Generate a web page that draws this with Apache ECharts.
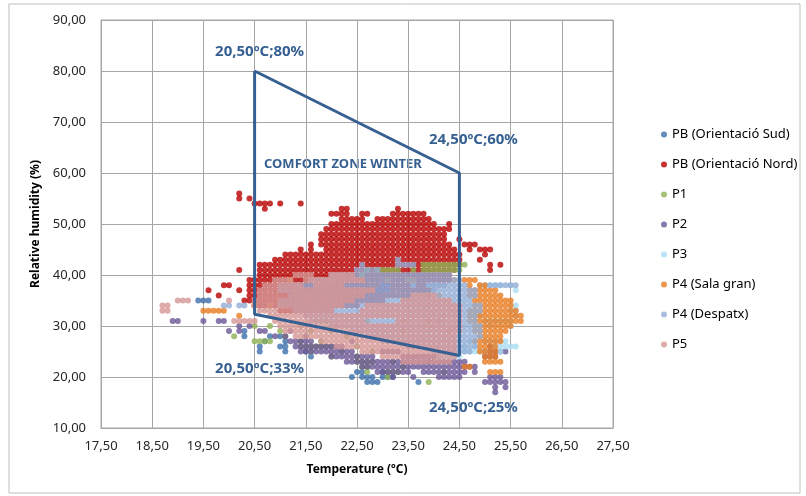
<!DOCTYPE html>
<html>
<head>
<meta charset="utf-8">
<script src="https://cdn.jsdelivr.net/npm/echarts@6/dist/echarts.min.js"></script>
<style>
  html, body { margin: 0; padding: 0; background: #fff; }
  #main { width: 806px; height: 496px; }
</style>
</head>
<body>
<div id="main"></div>
<script>
// rows: [humidity %, temperature or [from, to] run on the 0.1 ºC grid, ...]
var seriesNames = ['PB (Orientació Sud)', 'PB (Orientació Nord)', 'P1', 'P2', 'P3', 'P4 (Sala gran)', 'P4 (Despatx)', 'P5'];

var sudRows = [
  [35, 19.4, 19.5, 19.6],
  [29, 20.3],
  [28, 20.3, 20.8, 21.0],
  [27, 20.7, 21.1],
  [26, 20.6, 21.0, 21.1],
  [25, 20.6, 21.1, 21.5],
  [24, 21.6],
  [21, 22.5, 22.6, 23.0],
  [20, 22.4, [22.6, 22.8], [23.0, 23.2]],
  [19, [22.7, 22.9], 23.7]
];

var nordRows = [
  [56, 20.2],
  [55, 20.2, 20.4],
  [54, [20.5, 20.8], 21.0, 21.4],
  [53, 20.7, 22.2, 22.3, 23.3],
  [52, [22.0, 22.3], [22.6, 22.7], [23.2, 23.8]],
  [51, [22.2, 22.6], [22.9, 23.9]],
  [50, [22.0, 24.0], 24.3],
  [49, [21.9, 24.3]],
  [48, [21.8, 24.2]],
  [47, [21.8, 24.2], 24.5],
  [46, 21.6, [21.8, 24.3], [24.6, 24.8]],
  [45, 21.4, 21.6, [21.9, 24.4], 24.7, [24.9, 25.1]],
  [44, [21.1, 24.5], 25.0],
  [43, [20.9, 24.5], 24.9],
  [42, [20.6, 24.5], 25.1, 25.3],
  [41, 20.2, [20.6, 24.4], 25.1],
  [40, [20.6, 24.3]],
  [39, [20.4, 24.3]],
  [38, 19.9, 20.0, [20.4, 24.2]],
  [37, 19.6, 20.2, [20.4, 24.0]],
  [36, 19.8, [20.4, 23.5]],
  [35, [20.3, 23.0]],
  [34, [20.5, 22.5]],
  [33, [21.0, 22.0]]
];

var p1Rows = [
  [42, [23.8, 24.6]],
  [41, 22.7, [22.9, 23.3], 23.6, [23.8, 24.5]],
  [40, 22.6],
  [31, [21.7, 21.9]],
  [30, 20.5, 20.8, 21.4],
  [29, 21.0, 21.6, 22.0],
  [28, 20.1, 21.1, 22.3],
  [27, [20.5, 20.8], 21.4, 21.8],
  [26, [21.4, 22.0], 22.5],
  [25, 21.6, 22.2, 22.8],
  [24, 22.0, 22.5],
  [23, [22.5, 22.8], 23.2, 23.9],
  [22, [22.6, 22.7], 23.4],
  [21, 22.7, [23.1, 23.3], 24.2],
  [20, 23.1],
  [19, 23.9]
];

var p2Rows = [
  [38, 23.0, 23.1],
  [37, 21.0, 21.2, [22.9, 23.1]],
  [31, 18.9, 19.0, 19.5, 19.8, 19.9],
  [30, 20.2, 20.4],
  [29, 20.0, 20.2, 20.6, 20.7, 21.2],
  [28, 20.9, 21.1, 21.5],
  [27, [21.2, 21.6], 22.4],
  [26, [21.3, 22.2], 25.1],
  [25, [21.4, 22.4], [23.0, 23.3], [25.0, 25.4]],
  [24, [22.0, 22.8], [23.4, 24.1], [25.0, 25.2]],
  [23, [22.3, 24.6]],
  [22, [22.6, 24.8]],
  [21, [22.9, 23.5], [23.8, 24.6], 24.8],
  [20, 23.2, 23.6, [24.1, 24.5], [25.1, 25.3]],
  [19, [25.0, 25.4]],
  [18, 25.2, 25.4],
  [17, 25.2]
];

var p3Rows = [
  [38, 23.6, [23.9, 24.2], [24.9, 25.3], 25.5],
  [37, 24.0, 25.6],
  [34, 25.6],
  [33, 25.5, 25.6],
  [32, 24.9, 25.6],
  [31, [25.0, 25.5]],
  [30, 25.1, 25.5],
  [27, 24.7, [25.0, 25.4]],
  [26, 24.6, 24.8, [25.2, 25.6]],
  [25, [24.6, 25.0], 25.3],
  [24, [24.1, 24.5]]
];

var salaRows = [
  [39, 21.2, 21.6, 21.8, 22.0, 22.2, 22.6, 23.1, 23.5, 23.6, 24.4, [24.6, 24.8]],
  [38, 24.7, [24.9, 25.0]],
  [37, 21.3, [24.7, 25.2]],
  [36, 21.5, 23.9, 24.1, [24.7, 25.3]],
  [35, [24.8, 25.5]],
  [34, 20.5, 20.8, 21.0, [24.8, 25.5]],
  [33, [19.5, 19.9], [24.7, 25.6]],
  [32, 20.2, [24.7, 25.7]],
  [31, 22.7, 23.4, 23.9, 24.1, [24.7, 25.7]],
  [30, 22.1, [24.8, 25.5]],
  [29, 23.4, 24.3, [24.8, 25.4]],
  [28, [24.9, 25.3]],
  [27, [24.8, 25.3]],
  [26, [24.9, 25.2]],
  [25, [24.9, 25.2]],
  [24, [25.0, 25.2]],
  [23, [25.0, 25.3]],
  [22, 24.6, 24.7],
  [21, [25.1, 25.3]]
];

var despatxRows = [
  [43, 23.3],
  [42, 22.6, [23.3, 23.6]],
  [41, [22.5, 22.9]],
  [40, [22.0, 24.3]],
  [39, [21.6, 24.5]],
  [38, [21.0, 24.6], [25.1, 25.6]],
  [37, [21.0, 24.8]],
  [36, [21.2, 24.8]],
  [35, [21.0, 24.7]],
  [34, 19.9, 20.0, 20.2, 20.3, [21.0, 24.9]],
  [33, [21.3, 24.9]],
  [32, [21.5, 24.8]],
  [31, [21.6, 24.8]],
  [30, [22.0, 24.9]],
  [29, [22.4, 24.9]],
  [28, [22.7, 24.9]],
  [27, [23.0, 24.8]],
  [26, [23.5, 24.8]],
  [25, [24.0, 24.7]]
];

var p5Rows = [
  [40, [21.3, 21.6], [22.0, 22.4]],
  [39, [20.9, 21.2], [21.5, 22.6]],
  [38, [20.7, 21.4], [21.7, 22.2]],
  [37, [20.6, 22.8]],
  [36, [20.6, 22.6], [23.6, 24.0]],
  [35, 19.0, 19.1, 19.2, 20.0, [20.5, 22.4], [23.4, 24.3]],
  [34, 18.7, 18.8, [20.5, 22.2], [22.7, 24.5]],
  [33, 18.7, 18.8, [20.6, 22.0], [22.6, 24.5]],
  [32, [20.8, 24.5]],
  [31, [20.1, 20.5], [20.9, 22.6], [23.3, 24.5]],
  [30, [21.0, 24.5]],
  [29, [21.1, 24.5]],
  [28, [21.3, 24.4]],
  [27, [21.8, 24.4]],
  [26, [22.1, 24.4]],
  [25, [22.6, 24.4]],
  [24, [23.0, 24.4]],
  [23, [23.4, 24.3]]
];

// comfort zone outline
var zoneT = [20.5, 24.5, 24.5, 20.5, 20.5];
var zoneH = [80, 60, 24.2, 32.3, 80];
var zoneLabels = ['20,50ºC;80%', '24,50ºC;60%', '24,50ºC;25%', '20,50ºC;33%', ''];

var colors = ['#3C6EAA', '#B80000', '#8DB255', '#6B5896', '#A9DDF3', '#E97C22', '#93AED6', '#D69696'];

function expand(rows) {
  var pts = [];
  rows.forEach(function (row) {
    var h = row[0];
    row.slice(1).forEach(function (t) {
      if (Array.isArray(t)) {
        for (var k = Math.round(t[0] * 10); k <= Math.round(t[1] * 10); k++) pts.push([k / 10, h]);
      } else {
        pts.push([t, h]);
      }
    });
  });
  return pts;
}

function comma(v) { return v.toFixed(2).replace('.', ','); }

var allRows = [sudRows, nordRows, p1Rows, p2Rows, p3Rows, salaRows, despatxRows, p5Rows];
var series = allRows.map(function (rows, i) {
  return {
    name: seriesNames[i],
    type: 'scatter',
    symbolSize: 6,
    itemStyle: { color: colors[i] },
    data: expand(rows)
  };
});

var labelPos = [
  { position: 'top', offset: [5, -7] },
  { position: 'top', offset: [14, -21] },
  { position: 'bottom', offset: [14, 40] },
  { position: 'bottom', offset: [5, 42] },
  { show: false }
];
series.push({
  name: 'zone',
  type: 'line',
  z: 5,
  symbol: 'circle',
  symbolSize: 0,
  showSymbol: true,
  lineStyle: { color: '#376092', width: 3 },
  itemStyle: { color: '#376092' },
  data: zoneT.map(function (t, i) {
    return {
      value: [t, zoneH[i]],
      label: Object.assign({
        show: zoneLabels[i] !== '',
        formatter: zoneLabels[i],
        color: '#376092',
        fontSize: 15,
        fontWeight: 'bold',
        fontFamily: 'Noto Sans'
      }, labelPos[i])
    };
  })
});

var chart = echarts.init(document.getElementById('main'));
chart.setOption({
  animation: false,
  backgroundColor: '#fff',
  textStyle: { fontFamily: 'Noto Sans' },
  graphic: [
    { type: 'rect', shape: { x: 9, y: 4, width: 791, height: 489 }, style: { fill: 'none', stroke: '#bfbfbf', lineWidth: 1 }, z: -1 },
    { type: 'text', left: 264, top: 158, style: { text: 'COMFORT ZONE WINTER', fill: '#376092', font: 'bold 13px "Noto Sans"' } }
  ],
  grid: { left: 101, right: 193, top: 20, bottom: 68, show: true, borderColor: '#a6a6a6', borderWidth: 1 },
  legend: {
    data: seriesNames,
    orient: 'vertical',
    left: 656,
    top: 123,
    itemGap: 17,
    itemWidth: 6,
    itemHeight: 6,
    icon: 'circle',
    textStyle: { fontSize: 13, color: '#000', fontFamily: 'Noto Sans' }
  },
  xAxis: {
    type: 'value',
    min: 17.5,
    max: 27.5,
    interval: 0.5,
    name: 'Temperature (ºC)',
    nameLocation: 'middle',
    nameGap: 36,
    nameTextStyle: { fontWeight: 'bold', fontSize: 12, color: '#000' },
    axisLine: { show: true, lineStyle: { color: '#a6a6a6' } },
    axisTick: { show: false },
    axisLabel: {
      fontSize: 13, color: '#262626', margin: 12,
      formatter: function (v) { return Math.round(v * 10) % 10 === 5 ? comma(v) : ''; }
    },
    splitLine: { show: true, showMinLine: true, showMaxLine: true, lineStyle: { color: ['#a6a6a6', 'rgba(0,0,0,0)'] } }
  },
  yAxis: {
    type: 'value',
    min: 10,
    max: 90,
    interval: 10,
    name: 'Relative humidity (%)',
    nameLocation: 'middle',
    nameGap: 57,
    nameTextStyle: { fontWeight: 'bold', fontSize: 12, color: '#000' },
    axisLine: { show: true, lineStyle: { color: '#a6a6a6' } },
    axisTick: { show: false },
    axisLabel: { fontSize: 13, color: '#262626', margin: 15, formatter: comma },
    splitLine: { show: true, lineStyle: { color: '#a6a6a6' } }
  },
  series: series
});
</script>
</body>
</html>
